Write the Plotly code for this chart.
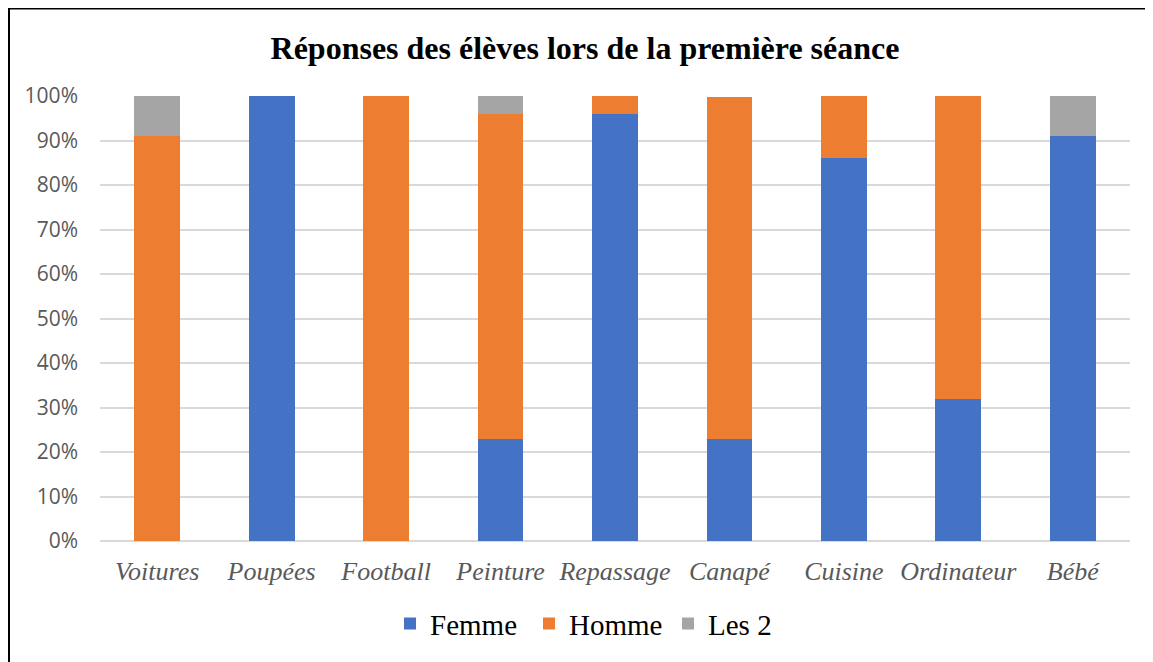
import plotly.graph_objects as go

categories = ["Voitures", "Poupées", "Football", "Peinture", "Repassage",
              "Canapé", "Cuisine", "Ordinateur", "Bébé"]
femme = [0, 100, 0, 23, 96, 23, 86, 32, 91]
homme = [91, 0, 100, 73, 4, 76.8, 14, 68, 0]
les2 = [9, 0, 0, 4, 0, 0, 0, 0, 9]
y_ticks = [0, 10, 20, 30, 40, 50, 60, 70, 80, 90, 100]

series = [("Femme", femme, "#4472C4"), ("Homme", homme, "#ED7D31"), ("Les 2", les2, "#A5A5A5")]

W, H = 1153, 662
L, R, T, B = 92, 31, 88, 129
pw, ph = W - L - R, H - T - B

fig = go.Figure()
for name, vals, color in series:
    fig.add_trace(go.Bar(name=name, x=categories, y=vals, marker_color=color,
                         marker_line_width=0))

fig.update_layout(
    barmode="stack",
    bargap=0.6,
    width=W, height=H,
    margin=dict(l=L, r=R, t=T, b=B),
    paper_bgcolor="white", plot_bgcolor="white",
    title=dict(text="<b>Réponses des élèves lors de la première séance</b>",
               font=dict(family="Liberation Serif", size=32, color="black"),
               x=(585 - 8) / W, xanchor="center", y=1 - 40 / H, yanchor="middle"),
    legend=dict(orientation="h", x=0.484, xanchor="center", y=-0.186, yanchor="middle",
                font=dict(family="Liberation Serif", size=29, color="black"),
                traceorder="normal", entrywidth=94, entrywidthmode="pixels"),
    showlegend=True,
)
fig.update_xaxes(tickfont=dict(family="Liberation Serif", size=26, color="#595959", style="italic"),
                 showline=False, showgrid=False, ticks="", ticklabelstandoff=12)
fig.update_yaxes(range=[0, 100], tickvals=y_ticks, ticktext=[f"{v}%" for v in y_ticks],
                 tickfont=dict(family="Open Sans", size=21, color="#595959"),
                 showgrid=True, gridcolor="#D9D9D9", gridwidth=1.5,
                 zeroline=True, zerolinecolor="#D9D9D9", zerolinewidth=1.5,
                 ticks="", ticklabelstandoff=21)
# chart frame (left and top edges)
fig.add_shape(type="line", xref="paper", yref="paper",
              x0=(0.5 - L) / pw, x1=(0.5 - L) / pw,
              y0=-(B) / ph, y1=1 + (T) / ph,
              line=dict(color="black", width=3), layer="below")
fig.add_shape(type="line", xref="paper", yref="paper",
              x0=(0 - L) / pw, x1=(W - L) / pw,
              y0=1 + (T - 0.5) / ph, y1=1 + (T - 0.5) / ph,
              line=dict(color="black", width=2), layer="below")
fig.write_html("out.html")
